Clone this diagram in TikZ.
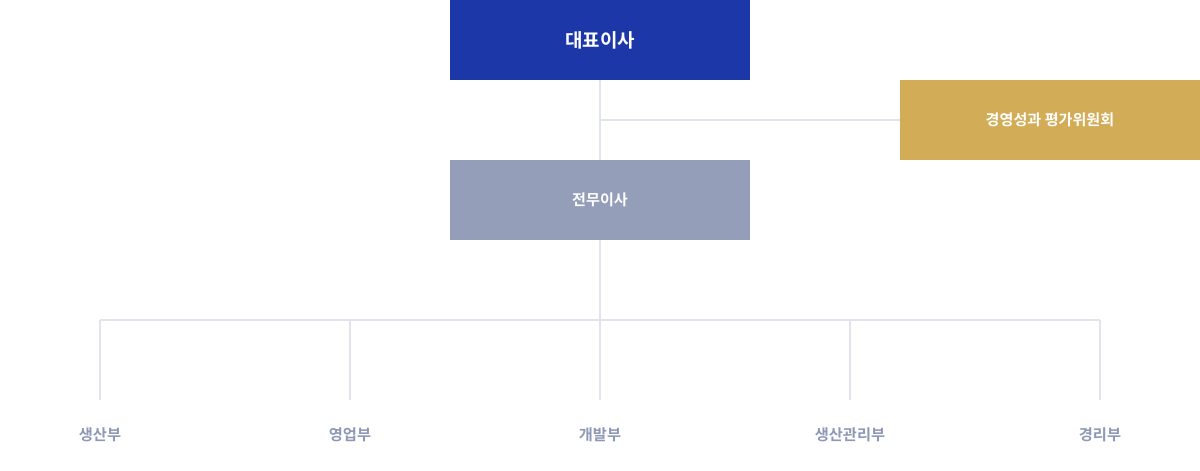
\documentclass[tikz,border=0pt]{standalone}
\usepackage{fontspec}
\setmainfont{Noto Sans CJK KR}[BoldFont={* Bold}]
\usetikzlibrary{positioning}

\definecolor{ceoblue}{HTML}{1C38A8}
\definecolor{cmtgold}{HTML}{D3AC57}
\definecolor{execgray}{HTML}{949EB9}
\definecolor{linegray}{HTML}{E1E4EE}
\definecolor{deptgray}{HTML}{8E97B5}

\tikzset{
  box/.style={minimum width=6cm, minimum height=1.6cm, inner sep=0pt,
    text=white, font=\bfseries\fontsize{8.6}{10}\selectfont},
  link/.style={draw=linegray, line width=1.1pt},
  dept/.style={text=deptgray, font=\bfseries\fontsize{8.7}{10}\selectfont}
}

\begin{document}
\begin{tikzpicture}[x=0.02cm, y=-0.02cm]
    \useasboundingbox (0,0) rectangle (1200,470);

    % Draw boxes
    \node[box, fill=ceoblue, font=\bfseries\fontsize{10.8}{12}\selectfont] (ceo) at (600,40) {대표이사};
    \node[box, fill=cmtgold] (cmt) at (1050,120) {경영성과 평가위원회};
    \node[box, fill=execgray] (exec) at (600,200) {전무이사};

    % Draw links
    \coordinate (cmtjoin) at (600,120);
    \coordinate (busmid) at (600,320);
    \coordinate (busleft) at (100,320);
    \coordinate (busright) at (1100,320);
    \draw[link] (ceo.south) -- (exec.north);
    \draw[link] (cmtjoin) -- (cmt.west);
    \draw[link] (exec.south) -- (busmid);
    \draw[link] (busleft) -- (busright);

    % Draw departments
    \foreach \x/\name/\txt in {100/prod/생산부, 350/sales/영업부, 600/dev/개발부,
                              850/prodmgmt/생산관리부, 1100/acct/경리부} {
      \coordinate (\name top) at (\x,320);
      \coordinate (\name end) at (\x,400);
      \node[dept] (\name) at (\x,435) {\txt};
      \draw[link] (\name top) -- (\name end);
    }

\end{tikzpicture}
\end{document}
